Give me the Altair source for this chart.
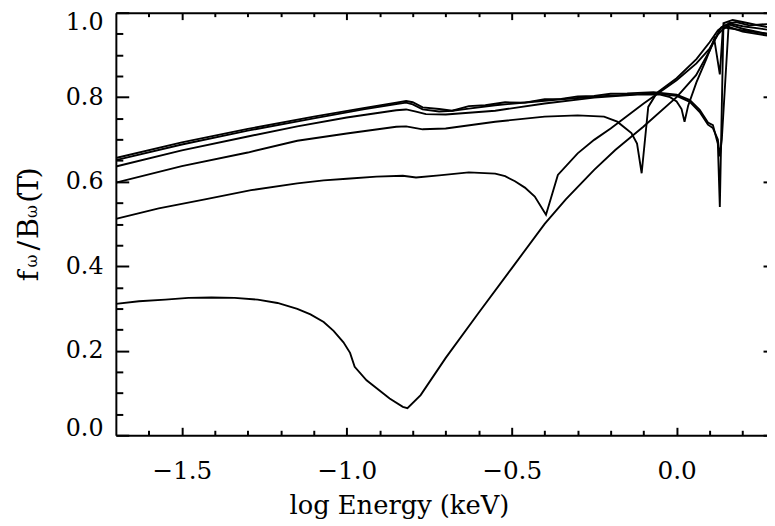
import altair as alt
import pandas as pd

# ---- data ----
A1_X = [-1.7, -1.5, -1.3, -1.1, -0.95, -0.85, -0.82, -0.80, -0.77, -0.72, -0.68, -0.63, -0.58, -0.52, -0.46,
        -0.40, -0.35, -0.30, -0.25, -0.20, -0.15, -0.07, 0.0, 0.04, 0.07, 0.095, 0.11, 0.125, 0.131, 0.142,
        0.17, 0.2, 0.274]
A1_Y = [0.656, 0.693, 0.725, 0.754, 0.774, 0.787, 0.791, 0.788, 0.776, 0.772, 0.768, 0.779, 0.781, 0.788, 0.787,
        0.795, 0.796, 0.802, 0.803, 0.808, 0.809, 0.812, 0.806, 0.793, 0.770, 0.740, 0.734, 0.690, 0.54, 0.975,
        0.983, 0.978, 0.966]

A2_X = [-1.7, -1.5, -1.3, -1.1, -0.95, -0.85, -0.82, -0.80, -0.77, -0.72, -0.68, -0.63, -0.55, -0.45, -0.35,
        -0.25, -0.15, -0.07, 0.0, 0.04, 0.07, 0.095, 0.11, 0.125, 0.131, 0.137, 0.158, 0.18, 0.22, 0.274]
A2_Y = [0.651, 0.688, 0.721, 0.750, 0.771, 0.784, 0.787, 0.783, 0.771, 0.766, 0.768, 0.773, 0.781, 0.788, 0.795,
        0.801, 0.806, 0.809, 0.803, 0.789, 0.765, 0.735, 0.727, 0.700, 0.660, 0.700, 0.975, 0.978, 0.970, 0.973]

B_X = [-1.7, -1.5, -1.3, -1.15, -1.0, -0.85, -0.82, -0.79, -0.76, -0.70, -0.55, -0.40, -0.25, -0.12, -0.05,
       -0.02, 0.0, 0.015, 0.024, 0.035, 0.06, 0.09, 0.114, 0.131, 0.14, 0.16, 0.2, 0.274]
B_Y = [0.636, 0.674, 0.707, 0.731, 0.752, 0.769, 0.771, 0.766, 0.760, 0.759, 0.768, 0.785, 0.799, 0.806, 0.806,
       0.800, 0.790, 0.772, 0.742, 0.780, 0.835, 0.890, 0.938, 0.854, 0.960, 0.972, 0.962, 0.950]

C_X = [-1.7, -1.5, -1.3, -1.15, -1.0, -0.85, -0.82, -0.77, -0.70, -0.55, -0.40, -0.30, -0.22, -0.18, -0.137,
       -0.12, -0.106, -0.086, -0.06, 0.0, 0.06, 0.10, 0.125, 0.145, 0.2, 0.274]
C_Y = [0.598, 0.637, 0.669, 0.697, 0.714, 0.730, 0.731, 0.724, 0.726, 0.742, 0.754, 0.757, 0.754, 0.742, 0.715,
       0.690, 0.620, 0.777, 0.810, 0.845, 0.890, 0.930, 0.958, 0.970, 0.955, 0.946]

D_X = [-1.7, -1.57, -1.43, -1.29, -1.15, -1.07, -1.0, -0.91, -0.83, -0.79, -0.72, -0.63, -0.55, -0.52, -0.49,
       -0.46, -0.43, -0.396, -0.36, -0.30, -0.25, -0.20, -0.166, -0.10, 0.0, 0.06, 0.10, 0.125, 0.145, 0.2, 0.274]
D_Y = [0.512, 0.537, 0.558, 0.580, 0.596, 0.603, 0.607, 0.612, 0.614, 0.610, 0.615, 0.622, 0.619, 0.613, 0.601,
       0.586, 0.565, 0.522, 0.616, 0.667, 0.699, 0.726, 0.746, 0.785, 0.840, 0.880, 0.915, 0.948, 0.965, 0.958, 0.950]

E_X = [-1.7, -1.63, -1.55, -1.48, -1.41, -1.34, -1.27, -1.21, -1.15, -1.11, -1.07, -1.04, -1.01, -0.99,
       -0.976, -0.94, -0.87, -0.83, -0.816, -0.776, -0.70, -0.60, -0.50, -0.40, -0.336, -0.25, -0.186, -0.101,
       0.0, 0.059, 0.10, 0.119, 0.135, 0.16, 0.2, 0.274]
E_Y = [0.311, 0.317, 0.321, 0.325, 0.326, 0.325, 0.321, 0.313, 0.299, 0.286, 0.268, 0.247, 0.220, 0.195,
       0.162, 0.130, 0.087, 0.067, 0.064, 0.095, 0.183, 0.290, 0.395, 0.500, 0.558, 0.628, 0.675, 0.730,
       0.800, 0.852, 0.910, 0.942, 0.965, 0.975, 0.968, 0.960]

X_MAJOR = [-1.5, -1.0, -0.5, 0.0]
X_MINOR = [-1.6, -1.4, -1.3, -1.2, -1.1, -0.9, -0.8, -0.7, -0.6, -0.4, -0.3, -0.2, -0.1, 0.1, 0.2]
Y_MAJOR = [0.0, 0.2, 0.4, 0.6, 0.8, 1.0]
Y_LABELS_UPPER = [0.2, 0.4, 0.6, 0.8, 1.0]
Y_LABELS_LOWER = [0.0]
Y_MINOR = [0.05, 0.1, 0.15, 0.25, 0.3, 0.35, 0.45, 0.5, 0.55, 0.65, 0.7, 0.75, 0.85, 0.9, 0.95]

X_TITLE = "log Energy (keV)"

curves = [("A1", A1_X, A1_Y), ("A2", A2_X, A2_Y), ("B", B_X, B_Y),
          ("C", C_X, C_Y), ("D", D_X, D_Y), ("E", E_X, E_Y)]
rows = []
for name, xs, ys in curves:
    for i, (xv, yv) in enumerate(zip(xs, ys)):
        rows.append({"curve": name, "i": i, "x": xv, "y": yv})
df = pd.DataFrame(rows)
one = pd.DataFrame({"k": [0]})

W, H = 658, 427
FONT = "DejaVu Serif"
xscale = alt.Scale(domain=[-1.7, 0.274], nice=False, zero=False)
yscale = alt.Scale(domain=[0.0, 1.0], nice=False, zero=False)


def ax(**kw):
    base = dict(title=None, grid=False, labels=False, domain=False, ticks=True,
                tickColor="black", tickWidth=2, domainColor="black", domainWidth=2)
    base.update(kw)
    return alt.Axis(**base)


lines = alt.Chart(df).mark_line(color="black", strokeWidth=1.9, clip=True).encode(
    x=alt.X("x:Q", scale=xscale,
            axis=ax(orient="bottom", values=X_MAJOR, format=".1f", labels=True, ticks=False,
                    tickSize=0, domain=True, labelFont=FONT, labelFontSize=25, labelPadding=24,
                    labelColor="black")),
    y=alt.Y("y:Q", scale=yscale,
            axis=ax(orient="left", values=Y_LABELS_UPPER, format=".1f", labels=True, ticks=False,
                    tickSize=0, domain=True, labelFont=FONT, labelFontSize=24, labelPadding=13,
                    labelColor="black", labelFlush=True, labelFlushOffset=1.5)),
    detail="curve:N",
    order="i:Q",
)

zero_label = alt.Chart(df).mark_rule(opacity=0).encode(
    y=alt.Y("y:Q", scale=yscale,
            axis=ax(orient="left", values=Y_LABELS_LOWER, format=".1f", labels=True, ticks=False,
                    tickSize=0, labelFont=FONT, labelFontSize=24, labelPadding=13,
                    labelColor="black", labelBaseline="alphabetic")))


def xticks(orient, values, size, domain=False):
    return alt.Chart(df).mark_rule(opacity=0).encode(
        x=alt.X("x:Q", scale=xscale,
                axis=ax(orient=orient, offset=-H, values=values, tickSize=size, domain=domain)))


def yticks(orient, values, size):
    return alt.Chart(df).mark_rule(opacity=0).encode(
        y=alt.Y("y:Q", scale=yscale,
                axis=ax(orient=orient, offset=-W, values=values, tickSize=size)))


tick_layers = [
    xticks("top", X_MAJOR, 8),      # bottom edge, inward
    xticks("top", X_MINOR, 5),
    xticks("bottom", X_MAJOR, 7, domain=True),   # top edge, inward
    xticks("bottom", X_MINOR, 4),
    yticks("right", Y_MAJOR, 13),   # left edge, inward
    yticks("right", Y_MINOR, 7),
    yticks("left", Y_MAJOR, 4),     # right edge, inward
]


def txt(t, x, y, size, angle=0, align="center"):
    return alt.Chart(one).mark_text(text=t, angle=angle, align=align, baseline="alphabetic",
                                    font=FONT, fontSize=size, color="black").encode(
        x=alt.value(x), y=alt.value(y))


texts = [
    txt(X_TITLE, 286.5, 507, 26),
    txt("f", -78.5, 266, 29, angle=270),
    txt("ω", -79.5, 251, 16, angle=270),
    txt("/", -78.5, 235.5, 29, angle=270),
    txt("B", -78.5, 218, 29, angle=270),
    txt("ω", -79.5, 201, 16, angle=270),
    txt("(", -78.5, 186.5, 29, angle=270),
    txt("T", -78.5, 174.5, 29, angle=270),
    txt(")", -78.5, 162, 29, angle=270),
]

chart = alt.layer(lines, zero_label, *tick_layers, *texts).resolve_axis(
    x="independent", y="independent"
).properties(
    width=W, height=H,
    padding={"left": 109, "top": 2, "right": 0, "bottom": 89},
    autosize=alt.AutoSizeParams(type="none"),
    background="white",
).configure_view(stroke=None)

chart.save("out.html", embed_options={"renderer": "svg", "actions": False})
